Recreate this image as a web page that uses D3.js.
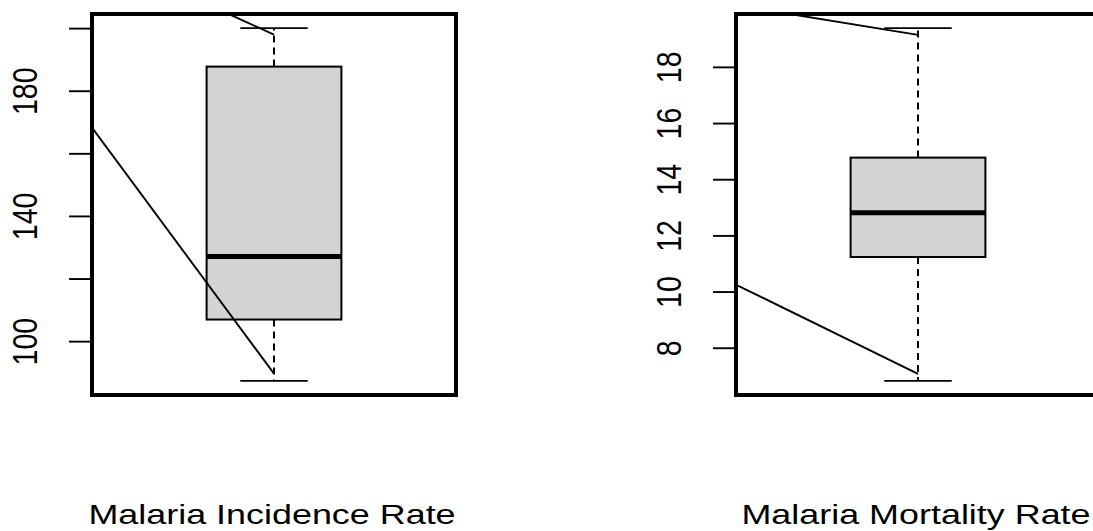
<!DOCTYPE html>
<html>
<head>
<meta charset="utf-8">
<script src="https://cdn.jsdelivr.net/npm/d3@7"></script>
<style>
  html, body { margin: 0; padding: 0; background: #fff; }
  svg { display: block; }
  text { font-family: "Liberation Sans", Arial, Helvetica, sans-serif; fill: #000; }
</style>
</head>
<body>
<script>
// Five-number summaries: lower whisker, Q1, median, Q3, upper whisker
const panelNames = ["Malaria Incidence Rate", "Malaria Mortality Rate"];
const incidenceStats = [87.3, 106.9, 127.0, 187.7, 200.0];
const mortalityStats = [6.82, 11.23, 12.81, 14.77, 19.38];

// Tick positions and their printed labels (unlabelled ticks have "")
const incidenceTicks = [100, 120, 140, 160, 180, 200];
const incidenceTickLabels = ["100", "", "140", "", "180", ""];
const mortalityTicks = [8, 10, 12, 14, 16, 18];
const mortalityTickLabels = ["8", "10", "12", "14", "16", "18"];

// Overlaid trend segments, as [position, value] pairs
const incidenceTrendUpper = [[0, 247.0], [1, 197.9]];
const incidenceTrendLower = [[0, 235.2], [1, 89.6]];
const mortalityTrendUpper = [[0, 21.09], [1, 19.14]];
const mortalityTrendLower = [[0, 12.95], [1, 7.07]];

const W = 1093, H = 531;
const textStretch = 1.26;   // horizontal stretch of the lettering
const fontSize = 28.5;

const svg = d3.select("body").append("svg")
  .attr("width", W).attr("height", H)
  .attr("viewBox", `0 0 ${W} ${H}`);

const panels = [
  { name: panelNames[0], stats: incidenceStats, ticks: incidenceTicks, labels: incidenceTickLabels,
    trends: [incidenceTrendUpper, incidenceTrendLower], left: 92 },
  { name: panelNames[1], stats: mortalityStats, ticks: mortalityTicks, labels: mortalityTickLabels,
    trends: [mortalityTrendUpper, mortalityTrendLower], left: 736 }
];

const plotTop = 14, plotBottom = 395, plotWidth = 364;

panels.forEach((p, i) => {
  const lo = d3.min(p.stats), hi = d3.max(p.stats);
  const pad = (hi - lo) * 0.04;
  const y = d3.scaleLinear().domain([lo - pad, hi + pad]).range([plotBottom, plotTop]);
  const x = d3.scaleLinear().domain([0.46, 1.54]).range([p.left, p.left + plotWidth]);

  const g = svg.append("g");
  const clipId = "clip" + i;
  svg.append("clipPath").attr("id", clipId)
    .append("rect")
    .attr("x", x.range()[0]).attr("y", plotTop)
    .attr("width", plotWidth).attr("height", plotBottom - plotTop);

  const [wLo, q1, med, q3, wHi] = p.stats;
  const cx = x(1);
  const boxHalf = x(1.2) - x(1);
  const capHalf = x(1.1) - x(1);

  // whiskers (dashed), from box edge outward
  g.selectAll("line.whisker")
    .data([[q3, wHi], [q1, wLo]])
    .join("line")
    .attr("class", "whisker")
    .attr("x1", cx).attr("x2", cx)
    .attr("y1", d => y(d[0])).attr("y2", d => y(d[1]))
    .attr("stroke", "#000").attr("stroke-width", 2)
    .attr("stroke-dasharray", "7,5");

  // staples
  g.selectAll("line.cap")
    .data([wLo, wHi])
    .join("line")
    .attr("class", "cap")
    .attr("x1", cx - capHalf).attr("x2", cx + capHalf)
    .attr("y1", d => y(d)).attr("y2", d => y(d))
    .attr("stroke", "#000").attr("stroke-width", 1.9);

  // box
  g.append("rect")
    .attr("x", cx - boxHalf).attr("y", y(q3))
    .attr("width", 2 * boxHalf).attr("height", y(q1) - y(q3))
    .attr("fill", "#d3d3d3").attr("stroke", "#000").attr("stroke-width", 2);

  // median
  g.append("line")
    .attr("x1", cx - boxHalf).attr("x2", cx + boxHalf)
    .attr("y1", y(med)).attr("y2", y(med))
    .attr("stroke", "#000").attr("stroke-width", 5);

  // trend segments, clipped to the plotting region
  const line = d3.line().x(d => x(d[0])).y(d => y(d[1]));
  g.append("g").attr("clip-path", `url(#${clipId})`)
    .selectAll("path")
    .data(p.trends)
    .join("path")
    .attr("d", line)
    .attr("fill", "none").attr("stroke", "#000").attr("stroke-width", 1.9);

  // plot frame
  g.append("rect")
    .attr("x", x.range()[0]).attr("y", plotTop)
    .attr("width", plotWidth).attr("height", plotBottom - plotTop)
    .attr("fill", "none").attr("stroke", "#000").attr("stroke-width", 4);

  // y axis
  const axis = d3.axisLeft(y).tickValues(p.ticks).tickSize(23)
    .tickFormat((d, k) => p.labels[k]);
  const ax = g.append("g").attr("transform", `translate(${x.range()[0]},0)`).call(axis);
  ax.select(".domain").remove();
  ax.selectAll(".tick line").attr("stroke", "#000").attr("stroke-width", 1.9);
  ax.selectAll(".tick text")
    .attr("x", null).attr("dy", null)
    .attr("text-anchor", "middle")
    .attr("font-size", fontSize)
    .attr("font-family", "Liberation Sans, Arial, sans-serif")
    .attr("fill", "#000")
    .attr("transform", `translate(-55,0) scale(${textStretch},1) rotate(-90)`);

  // category label
  g.append("text")
    .attr("transform", `translate(${cx - 2},524) scale(${textStretch},1)`)
    .attr("text-anchor", "middle")
    .attr("font-size", fontSize)
    .text(p.name);
});
</script>
</body>
</html>
